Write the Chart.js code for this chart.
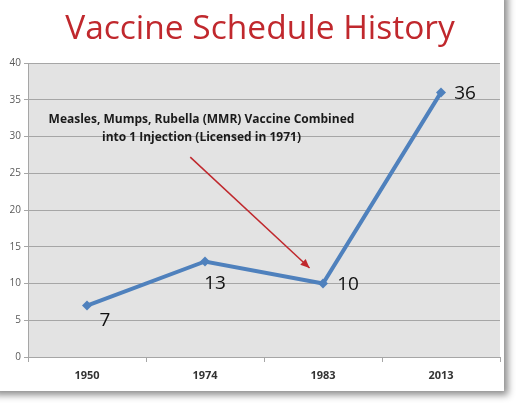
<!DOCTYPE html>
<html>
<head>
<meta charset="utf-8">
<script src="https://cdn.jsdelivr.net/npm/chart.js@4"></script>
<style>
html,body{margin:0;padding:0;background:#fff;}
#wrap{width:520px;height:408px;position:relative;}
</style>
</head>
<body>
<div id="wrap"><canvas id="c" width="520" height="408"></canvas></div>
<script>
const categories = ["1950", "1974", "1983", "2013"];
const vaccineCounts = [7, 13, 10, 36];
const yTicks = [0, 5, 10, 15, 20, 25, 30, 35, 40];
const titleText = "Vaccine Schedule History";
const noteLines = ["Measles, Mumps, Rubella (MMR) Vaccine Combined", "into 1 Injection (Licensed in 1971)"];

// label placement (pixel offsets from each point)
const labelOffsets = [[18, 15], [10, 22], [25, 1], [24, 1]];

const framePlugin = {
  id: 'frame',
  beforeDraw(chart) {
    const ctx = chart.ctx;
    ctx.save();
    ctx.fillStyle = '#ffffff';
    ctx.fillRect(0, 0, chart.width, chart.height);
    ctx.shadowColor = 'rgba(0,0,0,0.45)';
    ctx.shadowBlur = 7;
    ctx.shadowOffsetX = 4;
    ctx.shadowOffsetY = 4;
    ctx.fillStyle = '#ffffff';
    ctx.fillRect(-10, -10, 514, 401);
    ctx.restore();
    const a = chart.chartArea;
    ctx.save();
    ctx.fillStyle = '#e3e3e3';
    ctx.fillRect(a.left, a.top, a.right - a.left, a.bottom - a.top);
    // title
    ctx.fillStyle = '#c0282d';
    ctx.font = '33.5px "Open Sans", sans-serif';
    ctx.textAlign = 'center';
    ctx.textBaseline = 'alphabetic';
    ctx.fillText(titleText, 260, 39);
    ctx.restore();
  }
};

const notePlugin = {
  id: 'note',
  afterDatasetsDraw(chart) {
    const ctx = chart.ctx;
    const xs = chart.scales.x, ys = chart.scales.y;
    ctx.save();
    // annotation text
    ctx.fillStyle = '#1a1a1a';
    ctx.font = 'bold 12px "Open Sans", sans-serif';
    ctx.textAlign = 'center';
    ctx.textBaseline = 'middle';
    const tx = xs.getPixelForValue(0.97);
    ctx.fillText(noteLines[0], tx, ys.getPixelForValue(32.3));
    ctx.fillText(noteLines[1], tx, ys.getPixelForValue(29.8));
    // arrow
    const x1 = xs.getPixelForValue(0.875), y1 = ys.getPixelForValue(27.2);
    const x2 = xs.getPixelForValue(1.886), y2 = ys.getPixelForValue(12.1);
    ctx.strokeStyle = '#c0282d';
    ctx.fillStyle = '#c0282d';
    ctx.lineWidth = 1.5;
    ctx.beginPath();
    ctx.moveTo(x1, y1);
    ctx.lineTo(x2, y2);
    ctx.stroke();
    const ang = Math.atan2(y2 - y1, x2 - x1);
    const L = 9, W = 4;
    ctx.beginPath();
    ctx.moveTo(x2, y2);
    ctx.lineTo(x2 - L * Math.cos(ang) + W * Math.sin(ang), y2 - L * Math.sin(ang) - W * Math.cos(ang));
    ctx.lineTo(x2 - L * Math.cos(ang) - W * Math.sin(ang), y2 - L * Math.sin(ang) + W * Math.cos(ang));
    ctx.closePath();
    ctx.fill();
    // data labels
    const meta = chart.getDatasetMeta(0);
    ctx.fillStyle = '#111';
    ctx.font = '500 19px "Open Sans", sans-serif';
    ctx.textAlign = 'center';
    ctx.textBaseline = 'middle';
    meta.data.forEach((pt, i) => {
      const o = labelOffsets[i];
      ctx.fillText(String(vaccineCounts[i]), pt.x + o[0], pt.y + o[1]);
    });
    ctx.restore();
  }
};

new Chart(document.getElementById('c'), {
  type: 'line',
  data: {
    labels: categories,
    datasets: [{
      data: vaccineCounts,
      borderColor: '#4f81bd',
      backgroundColor: '#4f81bd',
      borderWidth: 4,
      pointStyle: 'rectRot',
      pointRadius: 5,
      pointBorderWidth: 0,
      tension: 0,
      fill: false
    }]
  },
  options: {
    responsive: false,
    animation: false,
    devicePixelRatio: 1,
    layout: { padding: { left: 0, right: 20, top: 63, bottom: 16 } },
    plugins: {
      legend: { display: false },
      tooltip: { enabled: false },
      title: { display: false }
    },
    scales: {
      x: {
        offset: true,
        grid: { offset: true, drawOnChartArea: false, drawTicks: true, tickLength: 5, color: '#a6a6a6' },
        border: { display: true, color: '#a6a6a6', width: 1 },
        ticks: { color: '#333', font: { family: '"Open Sans", sans-serif', size: 11, weight: 'bold' }, padding: 7 },
        afterFit(s) { s.height = 35; }
      },
      y: {
        min: 0, max: 40,
        afterBuildTicks(s) { s.ticks = yTicks.map(v => ({ value: v })); },
        grid: { color: '#a6a6a6', lineWidth: 1, drawTicks: true, tickLength: 4 },
        border: { display: true, color: '#a6a6a6' },
        ticks: { color: '#5a5a5a', font: { family: '"Open Sans", sans-serif', size: 10 }, padding: 3 },
        afterFit(s) { s.width = 28; }
      }
    }
  },
  plugins: [framePlugin, notePlugin]
});
</script>
</body>
</html>
